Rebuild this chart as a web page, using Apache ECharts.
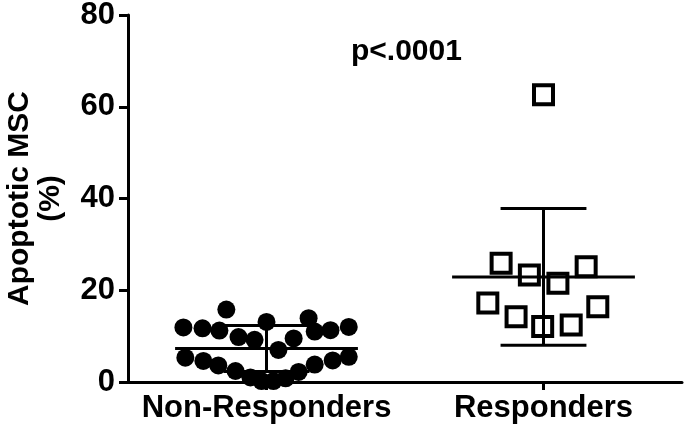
<!DOCTYPE html>
<html>
<head>
<meta charset="utf-8">
<script src="https://cdn.jsdelivr.net/npm/echarts@6/dist/echarts.min.js"></script>
<style>html,body{margin:0;padding:0;background:#fff;}#c{width:685px;height:429px;}</style>
</head>
<body>
<div id="c"></div>
<script>
const categories = ['Non-Responders', 'Responders'];
const yTickValues = [0, 20, 40, 60, 80];

// Non-Responders: apoptotic MSC (%) and horizontal scatter offset within the column
const nonRespValues = [15.8, 11.9, 11.7, 11.2, 9.8, 9.2, 13.1, 7.0, 9.5, 13.9, 11.0, 11.3, 12.0,
                       5.3, 4.6, 3.6, 2.4, 1.0, 0.2, 0.2, 0.8, 2.2, 3.8, 4.7, 5.5];
const nonRespJitter = [-0.145, -0.300, -0.231, -0.170, -0.101, -0.043, 0.000, 0.043, 0.098, 0.152, 0.174, 0.231, 0.297,
                       -0.293, -0.228, -0.174, -0.112, -0.058, -0.018, 0.025, 0.069, 0.116, 0.174, 0.239, 0.297];

// Responders
const respValues = [25.9, 23.3, 21.5, 25.1, 17.2, 14.2, 12.1, 12.4, 16.4, 62.6];
const respJitter = [-0.153, -0.051, 0.052, 0.154, -0.201, -0.099, -0.003, 0.100, 0.196, 0.000];

// Mean and SD per group
const groupMeans = [7.3, 22.9];
const groupSDs = [5.0, 14.9];

const pText = 'p<.0001';

const FONT = '"Liberation Sans", Arial, sans-serif';
const chart = echarts.init(document.getElementById('c'), null, {renderer: 'canvas'});

const nrData = nonRespValues.map((v, i) => [0.5 + nonRespJitter[i], v]);
const rData = respValues.map((v, i) => [1.5 + respJitter[i], v]);
const barData = groupMeans.map((m, i) => [i + 0.5, m, groupSDs[i]]);

const MEAN_HALF = 0.33, CAP_HALF = 0.155;

chart.setOption({
  animation: false,
  backgroundColor: '#fff',
  grid: {left: 128, right: 3, top: 15, bottom: 47, containLabel: false, outerBoundsMode: 'none'},
  xAxis: [
    {
      type: 'category', data: categories, boundaryGap: true,
      axisLine: {show: true, lineStyle: {color: '#000', width: 3}},
      axisTick: {show: true, alignWithLabel: true, length: 8, lineStyle: {color: '#000', width: 3}},
      axisLabel: {color: '#000', fontFamily: FONT, fontWeight: 'bold', fontSize: 31, margin: 11, interval: 0},
      splitLine: {show: false}
    },
    {
      type: 'value', min: 0, max: 2, show: false, splitLine: {show: false}
    }
  ],
  yAxis: {
    type: 'value', min: 0, max: 80, interval: 20,
    name: 'Apoptotic MSC\n(%)', nameLocation: 'middle', nameGap: 62, nameRotate: 90,
    nameTextStyle: {color: '#000', fontFamily: FONT, fontWeight: 'bold', fontSize: 30, lineHeight: 31, align: 'center'},
    axisLine: {show: true, lineStyle: {color: '#000', width: 3}},
    axisTick: {show: true, length: 9, lineStyle: {color: '#000', width: 3}},
    axisLabel: {color: '#000', fontFamily: FONT, fontWeight: 'bold', fontSize: 31, margin: 13,
      formatter: v => yTickValues.includes(v) ? String(v) : ''},
    splitLine: {show: false}
  },
  graphic: [{
    type: 'text', left: 351, top: 37,
    style: {text: pText, fill: '#000', font: 'bold 30px ' + FONT}
  }],
  series: [
    {
      type: 'scatter', xAxisIndex: 1, data: nrData, symbol: 'circle', symbolSize: 18, clip: false,
      itemStyle: {color: '#000', opacity: 1}, z: 3
    },
    {
      type: 'scatter', xAxisIndex: 1, data: rData, symbol: 'rect', symbolSize: 19, clip: false,
      itemStyle: {color: 'rgba(0,0,0,0)', borderColor: '#000', borderWidth: 4, opacity: 1}, z: 3
    },
    {
      type: 'custom', xAxisIndex: 1, data: barData, clip: false, z: 4,
      renderItem: function (params, api) {
        const x = api.value(0), m = api.value(1), sd = api.value(2);
        const st = {stroke: '#000', lineWidth: 3};
        const p = (a, b) => api.coord([a, b]);
        const mL = p(x - MEAN_HALF, m), mR = p(x + MEAN_HALF, m);
        const top = p(x, m + sd), bot = p(x, m - sd);
        const tL = p(x - CAP_HALF, m + sd), tR = p(x + CAP_HALF, m + sd);
        const bL = p(x - CAP_HALF, m - sd), bR = p(x + CAP_HALF, m - sd);
        return {
          type: 'group',
          children: [
            {type: 'line', shape: {x1: mL[0], y1: mL[1], x2: mR[0], y2: mR[1]}, style: st},
            {type: 'line', shape: {x1: top[0], y1: top[1], x2: bot[0], y2: bot[1]}, style: st},
            {type: 'line', shape: {x1: tL[0], y1: tL[1], x2: tR[0], y2: tR[1]}, style: st},
            {type: 'line', shape: {x1: bL[0], y1: bL[1], x2: bR[0], y2: bR[1]}, style: st}
          ]
        };
      }
    }
  ]
});
</script>
</body>
</html>
